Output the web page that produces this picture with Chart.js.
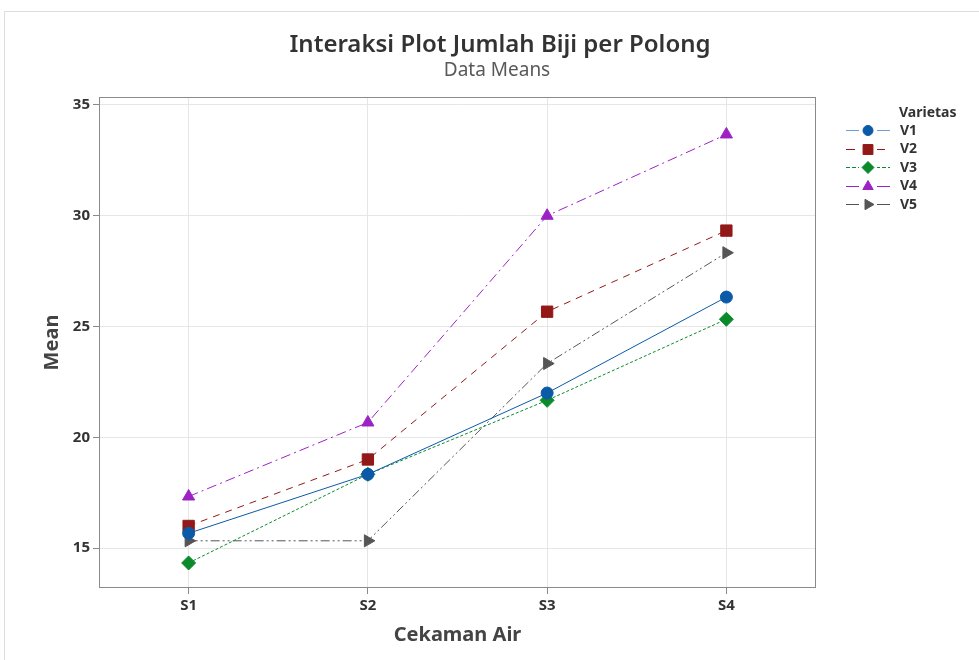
<!DOCTYPE html>
<html>
<head>
<meta charset="utf-8">
<script src="https://cdn.jsdelivr.net/npm/chart.js@4.4.1/dist/chart.umd.min.js"></script>
<style>
  html, body { margin: 0; padding: 0; background: #fff; }
  #wrap { position: relative; width: 979px; height: 660px; }
</style>
</head>
<body>
<div id="wrap"><canvas id="c" width="979" height="660"></canvas></div>
<script>
// data
var categories = ['S1', 'S2', 'S3', 'S4'];
var v1 = [15.67, 18.33, 22.0, 26.33];
var v2 = [16.0, 19.0, 25.67, 29.33];
var v3 = [14.33, 18.33, 21.67, 25.33];
var v4 = [17.33, 20.67, 30.0, 33.67];
var v5 = [15.33, 15.33, 23.33, 28.33];
var yTicks = [15, 20, 25, 30, 35];

var titleText = 'Interaksi Plot Jumlah Biji per Polong';
var subtitleText = 'Data Means';
var legendTitle = 'Varietas';

var FONT = '"Noto Sans", "Open Sans", sans-serif';

var series = [
  { label: 'V1', data: v1, color: '#0a5aa8', legColor: '#6b9fd6', dash: [], legDash: [], shape: 'circle', r: 6, rot: 0 },
  { label: 'V2', data: v2, color: '#931818', legColor: '#931818', dash: [7, 6], legDash: [9, 6], shape: 'rect', r: 8, rot: 0 },
  { label: 'V3', data: v3, color: '#0b8a2c', legColor: '#0b8a2c', dash: [3, 2], legDash: [4, 2], shape: 'rectRot', r: 7, rot: 0 },
  { label: 'V4', data: v4, color: '#9c22c4', legColor: '#9c22c4', dash: [10, 4, 2, 4], legDash: [], shape: 'triangle', r: 7, rot: 0 },
  { label: 'V5', data: v5, color: '#555555', legColor: '#555555', dash: [9, 3, 2, 3, 2, 3], legDash: [], shape: 'triangle', r: 7, rot: 90 }
];

// frame, titles and legend drawn on the canvas
var extras = {
  id: 'extras',
  beforeDraw: function(chart) {
    var ctx = chart.ctx;
    ctx.save();
    ctx.strokeStyle = '#dcdcdc';
    ctx.lineWidth = 1;
    ctx.beginPath();
    ctx.moveTo(4.5, 700); ctx.lineTo(4.5, 11.5); ctx.lineTo(990, 11.5);
    ctx.stroke();
    ctx.restore();
  },
  afterDraw: function(chart) {
    var ctx = chart.ctx, a = chart.chartArea;
    ctx.save();
    ctx.strokeStyle = '#8a8a8a';
    ctx.lineWidth = 1;
    ctx.strokeRect(Math.round(a.left) + 0.5, Math.round(a.top) + 0.5,
      Math.round(a.right - a.left) - 1, Math.round(a.bottom - a.top) - 1);

    // titles
    ctx.textAlign = 'center';
    ctx.textBaseline = 'alphabetic';
    ctx.fillStyle = '#333';
    ctx.font = '600 24px ' + FONT;
    ctx.fillText(titleText, 500, 52);
    ctx.fillStyle = '#595959';
    ctx.font = '19px ' + FONT;
    ctx.fillText(subtitleText, 497, 76);

    // legend
    ctx.fillStyle = '#333';
    ctx.font = 'bold 14px ' + FONT;
    ctx.textBaseline = 'middle';
    ctx.textAlign = 'left';
    ctx.fillText(legendTitle, 899, 113);
    series.forEach(function(s, i) {
      var y = 130 + i * 18.5;
      ctx.strokeStyle = s.legColor;
      ctx.lineWidth = 1;
      ctx.setLineDash(s.legDash);
      ctx.beginPath();
      ctx.moveTo(846, Math.round(y) + 0.5); ctx.lineTo(890, Math.round(y) + 0.5);
      ctx.stroke();
      ctx.setLineDash([]);
      ctx.fillStyle = '#fff';
      ctx.fillRect(859, y - 7, 18, 14);
      ctx.fillStyle = s.color;
      ctx.strokeStyle = s.color;
      Chart.helpers.drawPoint(ctx, { pointStyle: s.shape, radius: s.r - 1, rotation: s.rot, borderWidth: 1 }, 868, Math.round(y) + 0.5);
      ctx.fillStyle = '#333';
      ctx.font = 'bold 14px ' + FONT;
      ctx.fillText(s.label, 900, y + 1);
    });
    ctx.restore();
  }
};

new Chart(document.getElementById('c'), {
  type: 'line',
  data: {
    labels: categories,
    datasets: series.map(function(s) {
      return {
        label: s.label,
        data: s.data,
        borderColor: s.color,
        backgroundColor: s.color,
        borderWidth: 1,
        borderDash: s.dash,
        pointStyle: s.shape,
        pointRadius: s.r,
        pointRotation: s.rot,
        pointBorderWidth: 1,
        pointBackgroundColor: s.color,
        pointBorderColor: s.color,
        tension: 0
      };
    })
  },
  options: {
    responsive: false,
    animation: false,
    layout: { padding: { top: 97, right: 163, bottom: 0, left: 0 } },
    plugins: {
      legend: { display: false },
      tooltip: { enabled: false },
      title: { display: false }
    },
    scales: {
      x: {
        type: 'category',
        offset: true,
        grid: { offset: false, color: '#e6e6e6', tickColor: '#8a8a8a', tickLength: 6, drawTicks: true },
        border: { display: false },
        ticks: { color: '#333', font: { family: FONT, size: 15, weight: 'bold' }, padding: 3 },
        title: {
          display: true,
          text: 'Cekaman Air',
          color: '#444',
          font: { family: FONT, size: 20, weight: 'bold' },
          padding: { top: 0, bottom: 13 }
        },
        afterFit: function(scale) { scale.height = 72; }
      },
      y: {
        min: 13.2,
        max: 35.36,
        afterBuildTicks: function(scale) {
          scale.ticks = yTicks.map(function(v) { return { value: v }; });
        },
        grid: { color: '#e6e6e6', tickColor: '#8a8a8a', tickLength: 6 },
        border: { display: false },
        ticks: { color: '#333', font: { family: FONT, size: 15, weight: 'bold' }, padding: 3 },
        title: {
          display: true,
          text: 'Mean',
          color: '#444',
          font: { family: FONT, size: 20, weight: 'bold' },
          padding: { top: 40, bottom: 0 }
        },
        afterFit: function(scale) { scale.width = 99; }
      }
    }
  },
  plugins: [extras]
});
</script>
</body>
</html>
